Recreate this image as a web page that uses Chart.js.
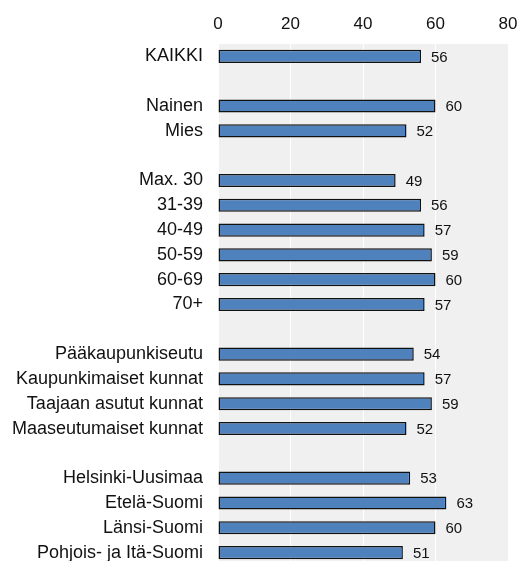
<!DOCTYPE html>
<html>
<head>
<meta charset="utf-8">
<script src="https://cdn.jsdelivr.net/npm/chart.js@4.4.1/dist/chart.umd.min.js"></script>
<style>
html,body{margin:0;padding:0;background:#fff;overflow:hidden;}
canvas{display:block;}
</style>
</head>
<body>
<canvas id="c" width="521" height="565"></canvas>
<script>
const categories = ["KAIKKI", "", "Nainen", "Mies", "", "Max. 30", "31-39", "40-49", "50-59", "60-69", "70+", "", "Pääkaupunkiseutu", "Kaupunkimaiset kunnat", "Taajaan asutut kunnat", "Maaseutumaiset kunnat", "", "Helsinki-Uusimaa", "Etelä-Suomi", "Länsi-Suomi", "Pohjois- ja Itä-Suomi"];
const values = [56, null, 60, 52, null, 49, 56, 57, 59, 60, 57, null, 54, 57, 59, 52, null, 53, 63, 60, 51];
const xTicks = [0, 20, 40, 60, 80];

const FONT = "'Liberation Sans', Arial, sans-serif";

const bgPlugin = {
  id: 'bg',
  beforeDraw(chart) {
    const {ctx, chartArea: a} = chart;
    ctx.save();
    ctx.fillStyle = '#f0f0f0';
    ctx.fillRect(a.left, a.top, a.right - a.left, a.bottom - a.top);
    ctx.restore();
  }
};

const labelPlugin = {
  id: 'vals',
  afterDatasetsDraw(chart) {
    const {ctx} = chart;
    const meta = chart.getDatasetMeta(0);
    ctx.save();
    ctx.font = "15px " + FONT;
    ctx.fillStyle = '#111111';
    ctx.textBaseline = 'middle';
    ctx.textAlign = 'left';
    meta.data.forEach((bar, i) => {
      const v = values[i];
      if (v === null) return;
      ctx.fillText(String(v), bar.x + 10, bar.y + 1);
    });
    ctx.restore();
  }
};

new Chart(document.getElementById('c'), {
  type: 'bar',
  data: {
    labels: categories,
    datasets: [{
      data: values,
      backgroundColor: '#4f81bd',
      borderColor: '#111111',
      borderWidth: 1.5,
      borderSkipped: false,
      barPercentage: 0.53,
      categoryPercentage: 1.0
    }]
  },
  options: {
    indexAxis: 'y',
    responsive: false,
    animation: false,
    devicePixelRatio: 1,
    layout: {padding: {left: 0, right: 13, top: 0, bottom: 0}},
    plugins: {legend: {display: false}, tooltip: {enabled: false}},
    scales: {
      x: {
        position: 'top',
        min: 0, max: 80,
        afterBuildTicks(scale) { scale.ticks = xTicks.map(v => ({value: v})); },
        afterFit(scale) { scale.height = 44; scale.paddingLeft = 0; scale.paddingRight = 0; },
        grid: {color: '#ffffff', lineWidth: 1, drawTicks: false, drawOnChartArea: true},
        border: {display: false},
        ticks: {font: {size: 17, family: FONT}, color: '#111111', padding: 9, maxRotation: 0}
      },
      y: {
        afterFit(scale) { scale.width = 218; scale.paddingTop = 0; scale.paddingBottom = 0; },
        grid: {display: false, drawTicks: false},
        border: {display: false},
        ticks: {font: {size: 18, family: FONT}, color: '#111111', padding: 15, autoSkip: false}
      }
    }
  },
  plugins: [bgPlugin, labelPlugin]
});
</script>
</body>
</html>
